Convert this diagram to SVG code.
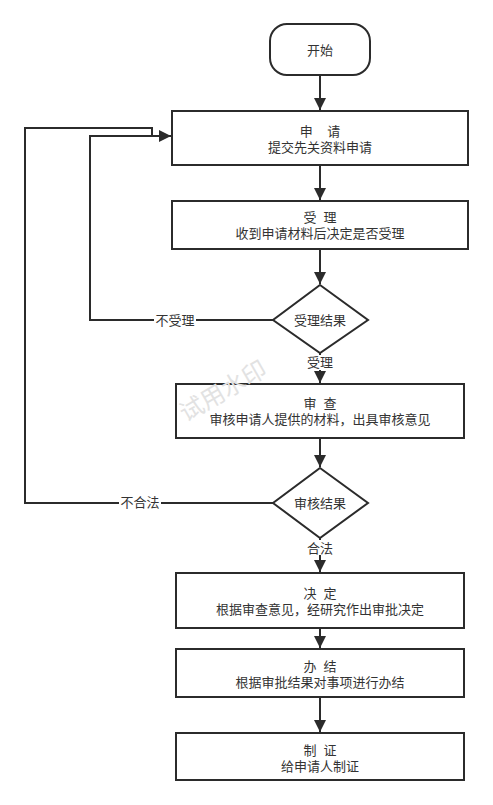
<svg xmlns="http://www.w3.org/2000/svg" width="493" height="805" viewBox="0 0 493 805">
<style>
.n{fill:#fff;stroke:#2b2b2b;stroke-width:2}
.t{font-family:"Liberation Sans","Noto Sans CJK SC",sans-serif;font-size:13px;fill:#333;text-anchor:middle;dominant-baseline:central}
.c{fill:none;stroke:#2b2b2b;stroke-width:2}
.lb{fill:#fff}
</style>
<defs>
<marker id="a" viewBox="0 0 10 10" refX="10" refY="5" markerWidth="6" markerHeight="6" markerUnits="strokeWidth" orient="auto">
<path d="M0,0 L10,5 L0,10 Z" fill="#2b2b2b"/>
</marker>
</defs>
<rect width="493" height="805" fill="#fff"/>
<g id="connectors">
<path class="c" d="M320,75 V110" marker-end="url(#a)"/>
<path class="c" d="M320,165 V200" marker-end="url(#a)"/>
<path class="c" d="M320,249 V284" marker-end="url(#a)"/>
<path class="c" d="M320,353 V383" marker-end="url(#a)"/>
<path class="c" d="M320,438 V467" marker-end="url(#a)"/>
<path class="c" d="M320,538 V572" marker-end="url(#a)"/>
<path class="c" d="M320,628 V648" marker-end="url(#a)"/>
<path class="c" d="M320,697 V732" marker-end="url(#a)"/>
<path class="c" d="M273,320 H90 V136 H171" marker-end="url(#a)"/>
<path class="c" d="M273,503 H25 V128 H152 V136"/>
<rect class="lb" x="154" y="312" width="42" height="16"/>
<text class="t" x="175" y="320">不受理</text>
<rect class="lb" x="119" y="495" width="42" height="16"/>
<text class="t" x="140" y="502">不合法</text>
<rect class="lb" x="305" y="355" width="30" height="15"/>
<text class="t" x="320" y="362">受理</text>
<rect class="lb" x="305" y="540" width="30" height="15"/>
<text class="t" x="320" y="548">合法</text>
</g>
<g id="start">
<rect class="n" x="270" y="24" width="100" height="51" rx="17"/>
<text class="t" x="320" y="50">开始</text>
</g>
<g id="apply">
<rect class="n" x="172" y="111" width="296" height="54"/>
<text class="t" x="320" y="131" xml:space="preserve">申    请</text>
<text class="t" x="320" y="147">提交先关资料申请</text>
</g>
<g id="accept">
<rect class="n" x="172" y="201" width="296" height="48"/>
<text class="t" x="320" y="217" xml:space="preserve">受  理</text>
<text class="t" x="320" y="233">收到申请材料后决定是否受理</text>
</g>
<g id="d1">
<polygon class="n" points="320,285 368,320 320,353 273,320"/>
<text class="t" x="320" y="320">受理结果</text>
</g>
<g id="review">
<rect class="n" x="176" y="384" width="288" height="54"/>
<text class="t" x="320" y="403" xml:space="preserve">审  查</text>
<text class="t" x="320" y="419">审核申请人提供的材料，出具审核意见</text>
</g>
<g id="d2">
<polygon class="n" points="320,468 368,503 320,538 273,503"/>
<text class="t" x="320" y="503">审核结果</text>
</g>
<g id="decide">
<rect class="n" x="176" y="573" width="288" height="55"/>
<text class="t" x="320" y="593" xml:space="preserve">决  定</text>
<text class="t" x="320" y="609">根据审查意见，经研究作出审批决定</text>
</g>
<g id="finish">
<rect class="n" x="176" y="649" width="288" height="48"/>
<text class="t" x="320" y="666" xml:space="preserve">办  结</text>
<text class="t" x="320" y="682">根据审批结果对事项进行办结</text>
</g>
<g id="cert">
<rect class="n" x="176" y="733" width="288" height="47"/>
<text class="t" x="320" y="750" xml:space="preserve">制  证</text>
<text class="t" x="320" y="766">给申请人制证</text>
</g>
<text x="223" y="391" transform="rotate(-30 223 391)" font-family="Liberation Sans,Noto Sans CJK SC,sans-serif" font-size="24" fill="#e2e2e2" text-anchor="middle" dominant-baseline="central">试用水印</text>
</svg>
